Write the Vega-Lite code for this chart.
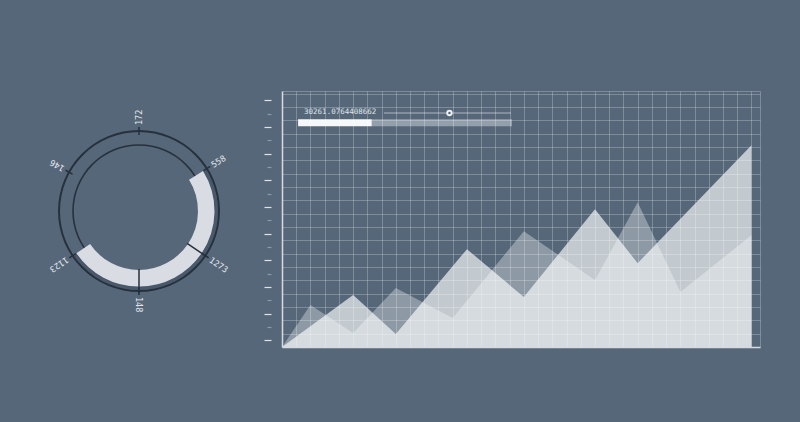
{
  "$schema": "https://vega.github.io/schema/vega-lite/v6.json",
  "background": "#56677a",
  "padding": {"left": 19, "top": 91, "right": 41, "bottom": 75},
  "spacing": 4,
  "config": {"view": {"stroke": null}},
  "datasets": {
    "ring": [
      {"label": "172", "deg": 0},
      {"label": "558", "deg": 58},
      {"label": "1273", "deg": 124},
      {"label": "148", "deg": 180},
      {"label": "1123", "deg": 236},
      {"label": "146", "deg": 299}
    ],
    "segments": [
      {"start": 58, "end": 124},
      {"start": 124, "end": 180},
      {"start": 180, "end": 236}
    ],
    "areas": [
      {"series": "A", "x": 0, "y": 0},
      {"series": "A", "x": 5, "y": 3.9},
      {"series": "A", "x": 8, "y": 0.97},
      {"series": "A", "x": 13, "y": 7.34},
      {"series": "A", "x": 17, "y": 3.75},
      {"series": "A", "x": 22, "y": 10.34},
      {"series": "A", "x": 25, "y": 6.29},
      {"series": "A", "x": 33, "y": 15.13},
      {"series": "B", "x": 0, "y": 0},
      {"series": "B", "x": 2, "y": 3.15},
      {"series": "B", "x": 5, "y": 1.05},
      {"series": "B", "x": 8, "y": 4.42},
      {"series": "B", "x": 12, "y": 2.17},
      {"series": "B", "x": 17, "y": 8.69},
      {"series": "B", "x": 22, "y": 5.02},
      {"series": "B", "x": 25, "y": 10.86},
      {"series": "B", "x": 28, "y": 4.12},
      {"series": "B", "x": 33, "y": 8.39}
    ],
    "ui": [
      {"kind": "bar", "part": "done", "x": 1.13, "x2": 6.31, "y": 16.55, "y2": 17.08},
      {"kind": "bar", "part": "rest", "x": 6.31, "x2": 16.17, "y": 16.55, "y2": 17.08},
      {"kind": "slider", "x": 7.17, "x2": 16.1, "y": 17.55},
      {"kind": "knob", "x": 11.77, "y": 17.55},
      {"kind": "label", "x": 1.55, "y": 17.6, "label": "30261.0764408662"}
    ]
  },
  "hconcat": [
    {
      "width": 240,
      "height": 240,
      "layer": [
        {
          "data": {"name": "segments"},
          "mark": {"type": "arc", "radius": 79, "radius2": 75.5, "color": "#4a586b"},
          "encoding": {
            "theta": {"field": "start", "type": "quantitative", "stack": null, "scale": {"domain": [0, 360], "range": [0, 6.283185307]}},
            "theta2": {"field": "end"}
          }
        },
        {
          "data": {"values": [{}]},
          "mark": {"type": "arc", "theta": 0, "theta2": 6.283185307, "radius": 81, "radius2": 79, "color": "#27313d"}
        },
        {
          "data": {"values": [{}]},
          "mark": {"type": "arc", "theta": 0, "theta2": 6.283185307, "radius": 66.8, "radius2": 65.2, "color": "#27313d"}
        },
        {
          "data": {"name": "segments"},
          "mark": {"type": "arc", "radius": 75.5, "radius2": 59, "color": "#d9dce2"},
          "encoding": {
            "theta": {"field": "start", "type": "quantitative", "stack": null, "scale": {"domain": [0, 360], "range": [0, 6.283185307]}},
            "theta2": {"field": "end"}
          }
        },
        {
          "data": {"name": "ring"},
          "mark": {"type": "arc", "radius": 84, "radius2": 76, "fill": null, "stroke": "#27313d", "strokeWidth": 1.5},
          "encoding": {
            "theta": {"field": "deg", "type": "quantitative", "stack": null, "scale": {"domain": [0, 360], "range": [0, 6.283185307]}},
            "theta2": {"field": "deg"}
          }
        },
        {
          "data": {"name": "ring"},
          "transform": [{"filter": "datum.deg == 124 || datum.deg == 180"}],
          "mark": {"type": "arc", "radius": 82, "radius2": 58, "fill": null, "stroke": "#27313d", "strokeWidth": 1.5},
          "encoding": {
            "theta": {"field": "deg", "type": "quantitative", "stack": null, "scale": {"domain": [0, 360], "range": [0, 6.283185307]}},
            "theta2": {"field": "deg"}
          }
        },
        {
          "data": {"name": "ring"},
          "mark": {"type": "text", "radius": 86, "align": "left", "baseline": "middle", "font": "DejaVu Sans Mono", "fontSize": 8.5, "color": "#e2e6eb"},
          "encoding": {
            "theta": {"field": "deg", "type": "quantitative", "stack": null, "scale": {"domain": [0, 360], "range": [0, 6.283185307]}},
            "angle": {"field": "deg", "type": "quantitative", "scale": {"domain": [0, 360], "range": [-90, 270]}},
            "text": {"field": "label"}
          }
        }
      ]
    },
    {
      "width": 478,
      "height": 256,
      "resolve": {"scale": {"opacity": "independent"}},
      "encoding": {
        "x": {
          "field": "x", "type": "quantitative",
          "scale": {"domain": [0, 33.6], "nice": false, "zero": false},
          "axis": {
            "values": [0,1,2,3,4,5,6,7,8,9,10,11,12,13,14,15,16,17,18,19,20,21,22,23,24,25,26,27,28,29,30,31,32,33,33.6],
            "title": null, "labels": false, "ticks": false,
            "domain": true, "domainColor": "#d5dae1", "domainWidth": 1.5,
            "grid": true,
            "gridColor": {"condition": {"test": "datum.value == 0", "value": "#d5dae1"}, "value": "#ffffff"},
            "gridOpacity": {"condition": {"test": "datum.value == 0", "value": 1}, "value": 0.24},
            "gridWidth": {"condition": {"test": "datum.value == 0", "value": 1.5}, "value": 1},
            "zindex": 1
          }
        },
        "y": {
          "field": "y", "type": "quantitative", "stack": null,
          "scale": {"domain": [0, 19.2], "nice": false, "zero": false},
          "axis": {
            "values": [0,0.5,1,1.5,2,2.5,3,3.5,4,4.5,5,5.5,6,6.5,7,7.5,8,8.5,9,9.5,10,10.5,11,11.5,12,12.5,13,13.5,14,14.5,15,15.5,16,16.5,17,17.5,18,18.5,19,19.2],
            "title": null, "labels": false, "domain": false, "offset": 11,
            "grid": true, "gridColor": "#ffffff",
            "gridOpacity": {"condition": {"test": "datum.value % 1 == 0.5", "value": 0}, "value": 0.24},
            "tickOpacity": {"condition": {"test": "datum.value % 1 == 0.5", "value": 1}, "value": 0},
            "tickColor": {"condition": {"test": "(datum.value - 0.5) % 2 == 0", "value": "#dde2e8"}, "value": "#8d99a8"},
            "tickSize": {"condition": {"test": "(datum.value - 0.5) % 2 == 0", "value": 7}, "value": 4},
            "tickWidth": 1.2,
            "zindex": 1
          }
        }
      },
      "layer": [
        {
          "data": {"name": "areas"},
          "mark": {"type": "area", "color": "#ffffff"},
          "encoding": {
            "opacity": {"field": "series", "type": "nominal", "scale": {"domain": ["A", "B"], "range": [0.645, 0.33]}, "legend": null}
          }
        },
        {
          "data": {"name": "ui"},
          "transform": [{"filter": "datum.kind == 'bar' && datum.part == 'rest'"}],
          "mark": {"type": "rect", "color": "#f3f5f8", "opacity": 0.4},
          "encoding": {
            "x2": {"field": "x2"},
            "y2": {"field": "y2"}
          }
        },
        {
          "data": {"name": "ui"},
          "transform": [{"filter": "datum.kind == 'bar' && datum.part == 'done'"}],
          "mark": {"type": "rect", "color": "#f5f7fa", "opacity": 1},
          "encoding": {
            "x2": {"field": "x2"},
            "y2": {"field": "y2"}
          }
        },
        {
          "data": {"name": "ui"},
          "transform": [{"filter": "datum.kind == 'slider'"}],
          "mark": {"type": "rule", "color": "#aeb6c2", "strokeWidth": 1},
          "encoding": {"x2": {"field": "x2"}}
        },
        {
          "data": {"name": "ui"},
          "transform": [{"filter": "datum.kind == 'knob'"}],
          "mark": {"type": "point", "filled": true, "shape": "circle", "size": 40, "color": "#eef1f4", "opacity": 1},
          "encoding": {}
        },
        {
          "data": {"name": "ui"},
          "transform": [{"filter": "datum.kind == 'knob'"}],
          "mark": {"type": "point", "filled": true, "shape": "circle", "size": 6, "color": "#56677a", "opacity": 1},
          "encoding": {}
        },
        {
          "data": {"name": "ui"},
          "transform": [{"filter": "datum.kind == 'label'"}],
          "mark": {"type": "text", "align": "left", "baseline": "middle", "font": "DejaVu Sans Mono", "fontSize": 7.5, "color": "#dfe3e9"},
          "encoding": {"text": {"field": "label"}}
        }
      ]
    }
  ]
}
